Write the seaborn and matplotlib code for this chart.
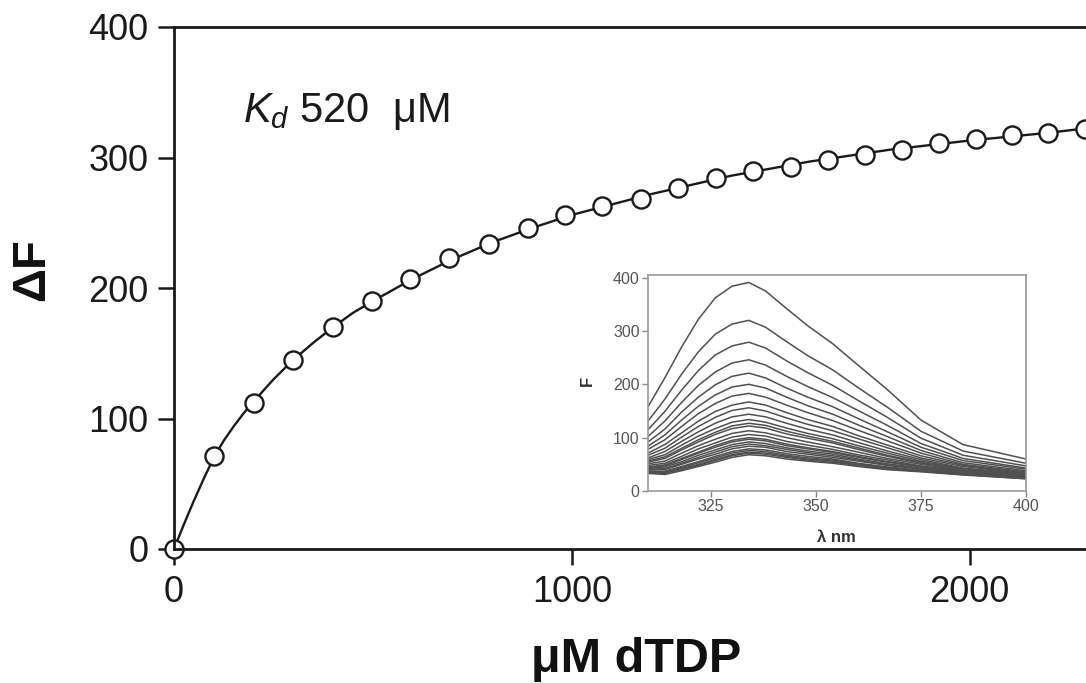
import numpy as np
import pandas as pd
import matplotlib
matplotlib.use("Agg")
import matplotlib.pyplot as plt
import seaborn as sns

# ---------------- data ----------------
conc_uM = [0, 100, 200, 300, 400, 497, 593, 691, 791, 889, 982, 1077, 1173,
           1267, 1362, 1456, 1550, 1644, 1738, 1831, 1923, 2015, 2107, 2198, 2289]
delta_F = [0, 71, 112, 145, 170, 190, 207, 223, 234, 246, 256, 263, 268,
           277, 284, 290, 293, 298, 302, 306, 311, 314, 317, 319, 322]

fit_x = [0, 25, 50, 75, 100, 125, 150, 175, 200, 250, 300, 350, 400, 450, 500,
         600, 700, 800, 900, 1000, 1200, 1400, 1600, 1800, 2000, 2200, 2310]
fit_y = [0, 19, 37, 54, 70, 83, 94, 104, 113, 130, 145, 158, 170, 181, 190,
         207, 222, 235, 246, 256, 272, 286, 297, 306, 313, 319, 323]

wavelength_nm = [310, 314, 318, 322, 326, 330, 334, 338, 343, 348, 354, 360, 367, 375, 385, 400]
spectra_F = [
    [158, 212, 270, 322, 362, 384, 391, 375, 342, 310, 276, 236, 190, 133, 87, 60],
    [131, 172, 219, 261, 294, 313, 320, 307, 280, 254, 227, 194, 157, 112, 75, 52],
    [115, 149, 189, 226, 255, 272, 279, 268, 244, 222, 198, 170, 138, 99, 67, 47],
    [102, 131, 166, 198, 223, 240, 246, 236, 215, 196, 175, 151, 123, 89, 61, 43],
    [92, 116, 148, 176, 199, 215, 221, 212, 193, 176, 158, 136, 111, 82, 57, 41],
    [84, 105, 133, 159, 180, 195, 200, 193, 176, 160, 144, 124, 102, 76, 53, 38],
    [78, 96, 121, 145, 164, 178, 183, 176, 161, 147, 132, 114, 94, 71, 50, 36],
    [71, 87, 109, 131, 149, 161, 167, 161, 147, 134, 121, 104, 86, 66, 48, 34],
    [67, 80, 101, 121, 138, 151, 156, 150, 137, 125, 113, 98, 81, 62, 46, 33],
    [62, 74, 93, 111, 127, 139, 144, 139, 127, 116, 105, 91, 75, 59, 43, 32],
    [59, 68, 86, 103, 117, 129, 134, 129, 118, 108, 98, 85, 71, 56, 42, 31],
    [56, 64, 80, 96, 110, 122, 127, 123, 112, 103, 93, 81, 67, 54, 40, 30],
    [54, 61, 77, 92, 106, 117, 122, 118, 107, 99, 90, 78, 65, 52, 40, 29],
    [51, 56, 71, 85, 97, 108, 113, 109, 100, 92, 83, 73, 61, 50, 38, 28],
    [48, 52, 65, 79, 90, 101, 106, 103, 93, 86, 78, 68, 58, 47, 37, 27],
    [45, 49, 61, 73, 85, 95, 100, 97, 88, 81, 74, 65, 55, 46, 36, 27],
    [44, 47, 59, 71, 82, 92, 97, 94, 85, 79, 72, 63, 54, 45, 35, 26],
    [42, 45, 55, 67, 77, 87, 92, 89, 81, 75, 69, 60, 51, 43, 34, 26],
    [41, 42, 52, 63, 73, 83, 88, 85, 78, 72, 66, 58, 49, 42, 34, 25],
    [39, 40, 50, 60, 69, 79, 84, 82, 74, 69, 63, 56, 48, 41, 33, 25],
    [37, 37, 46, 55, 65, 74, 79, 77, 70, 65, 60, 52, 45, 39, 32, 24],
    [36, 36, 44, 53, 62, 71, 76, 74, 67, 62, 58, 51, 44, 38, 31, 24],
    [35, 34, 42, 50, 59, 68, 73, 71, 65, 60, 56, 49, 42, 38, 31, 24],
    [34, 33, 40, 48, 57, 66, 71, 69, 63, 58, 54, 48, 41, 37, 31, 23],
    [33, 31, 38, 46, 54, 63, 68, 66, 60, 56, 52, 46, 40, 36, 30, 23],
]

main_xticks = [0, 1000, 2000]
main_yticks = [0, 100, 200, 300, 400]
inset_xticks = [325, 350, 375, 400]
inset_yticks = [0, 100, 200, 300, 400]

# ---------------- style ----------------
sns.set_theme(style="white")
plt.rcParams["font.family"] = ["Liberation Sans", "DejaVu Sans"]
plt.rcParams["mathtext.fontset"] = "custom"
plt.rcParams["mathtext.rm"] = "Liberation Sans"
plt.rcParams["mathtext.it"] = "Liberation Sans:italic"

W, H = 1086, 683
fig = plt.figure(figsize=(W / 100, H / 100), dpi=100)
fig.patch.set_facecolor("white")

ax = fig.add_axes([174 / W, (H - 549) / H, (1093 - 174) / W, (549 - 27) / H])
ax.set_facecolor("white")

main_df = pd.DataFrame({"conc": conc_uM, "dF": delta_F})
fit_df = pd.DataFrame({"conc": fit_x, "dF": fit_y})

sns.lineplot(data=fit_df, x="conc", y="dF", ax=ax, color="#1a1a1a", lw=1.7,
             sort=False, estimator=None, zorder=2)
sns.scatterplot(data=main_df, x="conc", y="dF", ax=ax, marker="o", s=170,
                facecolor="white", edgecolor="#1a1a1a", linewidth=1.7,
                zorder=2.2, clip_on=False)

ax.set_xlim(0, 2310)
ax.set_ylim(0, 400)
ax.set_xticks(main_xticks)
ax.set_yticks(main_yticks)
ax.set_xlabel("")
ax.set_ylabel("")
for s in ["left", "bottom", "top", "right"]:
    ax.spines[s].set_color("#1a1a1a")
    ax.spines[s].set_linewidth(2.0)
    ax.spines[s].set_zorder(3)
ax.tick_params(axis="both", direction="out", length=11.5, width=1.8,
               color="#1a1a1a", labelsize=26, labelcolor="#1a1a1a",
               left=True, bottom=True)
ax.tick_params(axis="x", pad=7)
ax.tick_params(axis="y", pad=7)

ax.text(173, 327, r"$K_d$ 520  μM", fontsize=30, color="#1a1a1a",
        ha="left", va="baseline")

fig.text(32 / W, 1 - 270 / H, "ΔF", rotation=90, ha="center", va="center",
         fontsize=34, fontweight="bold", color="#111111")
fig.text(636 / W, 1 - 659 / H, "μM dTDP", ha="center", va="center",
         fontsize=35, fontweight="bold", color="#111111")

# ---------------- inset ----------------
ins = fig.add_axes([648 / W, (H - 491) / H, (1026 - 648) / W, (491 - 275) / H])
ins.set_facecolor("white")
rows = []
for i, curve in enumerate(spectra_F):
    for wl, val in zip(wavelength_nm, curve):
        rows.append({"curve": i, "wl": wl, "F": val})
spec_df = pd.DataFrame(rows)
sns.lineplot(data=spec_df, x="wl", y="F", units="curve", estimator=None,
             ax=ins, color="#505050", lw=1.1, sort=False)
ins.set_xlim(310, 400)
ins.set_ylim(0, 405)
ins.set_xticks(inset_xticks)
ins.set_yticks(inset_yticks)
ins.set_xlabel("")
ins.set_ylabel("")
for s in ["left", "bottom", "top", "right"]:
    ins.spines[s].set_color("#9a9a9a")
    ins.spines[s].set_linewidth(1.2)
ins.tick_params(axis="both", direction="out", length=4, width=1.0,
                color="#8a8a8a", labelsize=11.5, labelcolor="#555555",
                left=True, bottom=True, pad=2)
fig.text(836 / W, 1 - 537 / H, "λ nm", ha="center", va="center",
         fontsize=12, fontweight="bold", color="#333333")
fig.text(587 / W, 1 - 381 / H, "F", rotation=90, ha="center", va="center",
         fontsize=12, fontweight="bold", color="#333333")

fig.savefig("out.png", dpi=100)
